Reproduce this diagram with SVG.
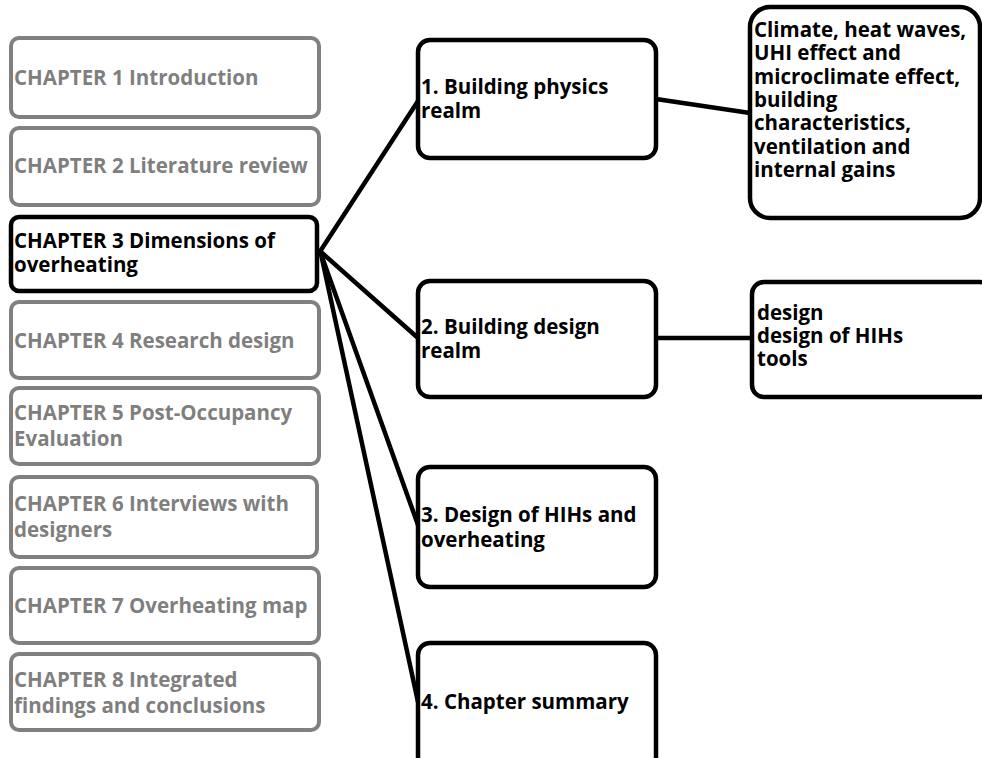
<svg xmlns="http://www.w3.org/2000/svg" width="982" height="758" viewBox="0 0 982 758">
  <style>
    .box { fill: #ffffff; stroke-width: 4; }
    .dim { stroke: #808080; }
    .dark { stroke: #000000; stroke-width: 4.5; }
    text { font-family: "Open Sans", "Noto Sans", "Liberation Sans", sans-serif; font-weight: 700; font-size: 20.5px; }
    .tdim { fill: #7f7f7f; }
    .tdark { fill: #000000; }
    .link { stroke: #000000; stroke-width: 4.5; fill: none; stroke-linecap: round; }
  </style>

  <!-- connectors -->
  <g id="connectors">
    <line class="link" x1="321" y1="250" x2="418" y2="101"/>
    <line class="link" x1="321" y1="252" x2="418" y2="338"/>
    <line class="link" x1="321" y1="254" x2="418" y2="525"/>
    <line class="link" x1="321" y1="254" x2="418" y2="702"/>
    <line class="link" x1="656" y1="99" x2="750" y2="113"/>
    <line class="link" x1="656" y1="338" x2="752" y2="338"/>
  </g>

  <!-- chapter list -->
  <g id="ch1">
    <rect class="box dim" x="11" y="38" width="308" height="79" rx="8"/>
    <text class="tdim" x="14" y="85">CHAPTER 1 Introduction</text>
  </g>
  <g id="ch2">
    <rect class="box dim" x="11" y="128" width="308" height="77" rx="8"/>
    <text class="tdim" x="14" y="173">CHAPTER 2 Literature review</text>
  </g>
  <g id="ch3">
    <rect class="box dark" x="11" y="217" width="306" height="74" rx="8"/>
    <text class="tdark" x="14" y="248">CHAPTER 3 Dimensions of</text>
    <text class="tdark" x="14" y="272">overheating</text>
  </g>
  <g id="ch4">
    <rect class="box dim" x="11" y="302" width="308" height="76" rx="8"/>
    <text class="tdim" x="14" y="348">CHAPTER 4 Research design</text>
  </g>
  <g id="ch5">
    <rect class="box dim" x="11" y="388" width="308" height="76" rx="8"/>
    <text class="tdim" x="14" y="420">CHAPTER 5 Post-Occupancy</text>
    <text class="tdim" x="14" y="446">Evaluation</text>
  </g>
  <g id="ch6">
    <rect class="box dim" x="11" y="477" width="306" height="80" rx="8"/>
    <text class="tdim" x="14" y="511">CHAPTER 6 Interviews with</text>
    <text class="tdim" x="14" y="537">designers</text>
  </g>
  <g id="ch7">
    <rect class="box dim" x="11" y="568" width="308" height="75" rx="8"/>
    <text class="tdim" x="14" y="613">CHAPTER 7 Overheating map</text>
  </g>
  <g id="ch8">
    <rect class="box dim" x="11" y="654" width="308" height="76" rx="8"/>
    <text class="tdim" x="14" y="687">CHAPTER 8 Integrated</text>
    <text class="tdim" x="14" y="713">findings and conclusions</text>
  </g>

  <!-- chapter 3 sections -->
  <g id="sec1">
    <rect class="box dark" x="418" y="40" width="238" height="118" rx="12"/>
    <text class="tdark" x="421" y="94">1. Building physics</text>
    <text class="tdark" x="421" y="118">realm</text>
  </g>
  <g id="sec2">
    <rect class="box dark" x="418" y="281" width="238" height="116" rx="12"/>
    <text class="tdark" x="421" y="334">2. Building design</text>
    <text class="tdark" x="421" y="358">realm</text>
  </g>
  <g id="sec3">
    <rect class="box dark" x="418" y="467" width="238" height="120" rx="12"/>
    <text class="tdark" x="421" y="522">3. Design of HIHs and</text>
    <text class="tdark" x="421" y="547">overheating</text>
  </g>
  <g id="sec4">
    <rect class="box dark" x="418" y="643" width="238" height="130" rx="12"/>
    <text class="tdark" x="421" y="709">4. Chapter summary</text>
  </g>

  <!-- section details -->
  <g id="detail1">
    <rect class="box dark" x="750" y="7" width="230" height="211" rx="20"/>
    <text class="tdark" x="754" y="37">Climate, heat waves,</text>
    <text class="tdark" x="754" y="60">UHI effect and</text>
    <text class="tdark" x="754" y="84">microclimate effect,</text>
    <text class="tdark" x="754" y="107">building</text>
    <text class="tdark" x="754" y="130">characteristics,</text>
    <text class="tdark" x="754" y="154">ventilation and</text>
    <text class="tdark" x="754" y="177">internal gains</text>
  </g>
  <g id="detail2">
    <rect class="box dark" x="752" y="282" width="240" height="115" rx="12"/>
    <text class="tdark" x="757" y="320">design</text>
    <text class="tdark" x="757" y="343">design of HIHs</text>
    <text class="tdark" x="757" y="366">tools</text>
  </g>
</svg>
